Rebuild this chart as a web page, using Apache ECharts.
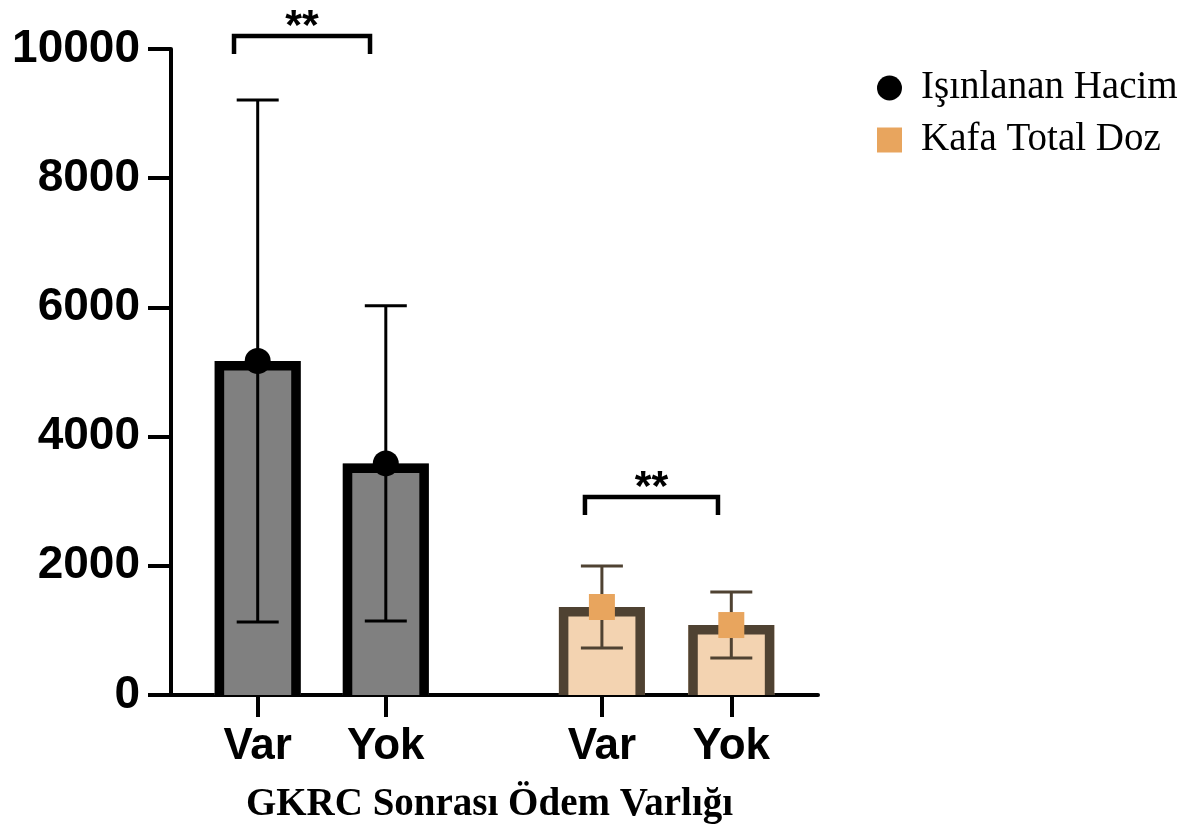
<!DOCTYPE html>
<html><head><meta charset="utf-8">
<script src="https://cdn.jsdelivr.net/npm/echarts@6/dist/echarts.min.js"></script>
<style>html,body{margin:0;padding:0;background:#fff}#c{width:1194px;height:832px}</style>
</head><body><div id="c"></div>
<script>
// ---- data ----
const categories = ['Var', 'Yok', 'Var', 'Yok'];
const xPositions = [0.67, 1.66, 3.33, 4.33];
const hacimMean = [5170, 3585];
const hacimSD = [4040, 2440];
const dozMean = [1362, 1083];
const dozSD = [634, 510];
const yTicks = [0, 2000, 4000, 6000, 8000, 10000];
const sigBrackets = [[0.487, 1.538, 10200], [3.199, 4.227, 3065]];
const sigLabels = ['**', '**'];
const seriesNames = ['Işınlanan Hacim', 'Kafa Total Doz'];
const xTitle = 'GKRC Sonrası Ödem Varlığı';

// ---- build ----
const hacimData = hacimMean.map((m, i) => [xPositions[i], m, hacimSD[i]]);
const dozData = dozMean.map((m, i) => [xPositions[i + 2], m, dozSD[i]]);

const BAR_W = 0.665; // in x units
const BORDER = 9.5;
const CAP = 21;

function barRenderer(fill, stroke, errColor) {
  return function (params, api) {
    const x = api.value(0), v = api.value(1), sd = api.value(2);
    const top = api.coord([x, v]);
    const bot = api.coord([x, 0]);
    const w = api.size([BAR_W, 0])[0];
    const l = top[0] - w / 2, r = top[0] + w / 2;
    const hi = api.coord([x, v + sd]);
    const lo = api.coord([x, v - sd]);
    const cx = top[0];
    return {
      type: 'group',
      children: [
        { type: 'rect', shape: { x: l, y: top[1], width: w, height: bot[1] - top[1] }, style: { fill: fill } },
        { type: 'polyline', shape: { points: [[l + BORDER / 2, bot[1]], [l + BORDER / 2, top[1] + BORDER / 2], [r - BORDER / 2, top[1] + BORDER / 2], [r - BORDER / 2, bot[1]]] },
          style: { stroke: stroke, lineWidth: BORDER, fill: null, lineJoin: 'miter' } },
        { type: 'line', shape: { x1: cx, y1: hi[1], x2: cx, y2: lo[1] }, style: { stroke: errColor, lineWidth: 3 } },
        { type: 'line', shape: { x1: cx - CAP, y1: hi[1], x2: cx + CAP, y2: hi[1] }, style: { stroke: errColor, lineWidth: 3 } },
        { type: 'line', shape: { x1: cx - CAP, y1: lo[1], x2: cx + CAP, y2: lo[1] }, style: { stroke: errColor, lineWidth: 3 } }
      ]
    };
  };
}

function bracketRenderer(params, api) {
  const a = api.coord([api.value(0), api.value(2)]);
  const b = api.coord([api.value(1), api.value(2)]);
  const leg = 18;
  return {
    type: 'group',
    children: [
      { type: 'polyline', shape: { points: [[a[0], a[1] + leg], [a[0], a[1]], [b[0], b[1]], [b[0], b[1] + leg]] },
        style: { stroke: '#000', lineWidth: 4.5, fill: null, lineJoin: 'miter' } },
      { type: 'text', x: (a[0] + b[0]) / 2, y: a[1] - 9,
        style: { text: sigLabels[params.dataIndex], fill: '#000', font: 'bold 43px "Liberation Sans", Arial, sans-serif', align: 'center', verticalAlign: 'middle' } }
    ]
  };
}

function nearestIndex(v) {
  let best = 0;
  xPositions.forEach((p, i) => { if (Math.abs(p - v) < Math.abs(xPositions[best] - v)) best = i; });
  return best;
}

const chart = echarts.init(document.getElementById('c'), null, { renderer: 'canvas' });
chart.setOption({
  animation: false,
  backgroundColor: '#fff',
  grid: { left: 171, top: 49, width: 647, height: 646, containLabel: false, outerBoundsMode: 'none' },
  legend: {
    orient: 'vertical', left: 872, top: 63,
    itemWidth: 25, itemHeight: 25, itemGap: 12,
    textStyle: { fontFamily: '"Liberation Serif", "Times New Roman", serif', fontSize: 39, color: '#000', lineHeight: 40, padding: [0, 0, 0, 14] },
    data: [{ name: seriesNames[0], icon: 'circle' }, { name: seriesNames[1], icon: 'rect' }]
  },
  xAxis: {
    type: 'value', min: 0, max: 5,
    axisLine: { show: true, onZero: true, lineStyle: { color: '#000', width: 4 } },
    axisTick: { show: true, customValues: xPositions, length: 22, lineStyle: { color: '#000', width: 4 } },
    axisLabel: { show: true, customValues: xPositions, formatter: v => categories[nearestIndex(v)],
      margin: 30, fontFamily: '"Liberation Sans", Arial, sans-serif', fontWeight: 'bold', fontSize: 44, color: '#000' },
    splitLine: { show: false },
    name: xTitle, nameLocation: 'middle', nameGap: 90,
    nameTextStyle: { fontFamily: '"Liberation Serif", "Times New Roman", serif', fontWeight: 'bold', fontSize: 39, color: '#000', padding: [0, 10, 0, 0] }
  },
  yAxis: {
    type: 'value', min: yTicks[0], max: yTicks[yTicks.length - 1], interval: yTicks[1] - yTicks[0],
    axisLine: { show: true, lineStyle: { color: '#000', width: 4 } },
    axisTick: { show: true, length: 23, lineStyle: { color: '#000', width: 4 } },
    axisLabel: { margin: 31, formatter: v => String(v), fontFamily: '"Liberation Sans", Arial, sans-serif', fontWeight: 'bold', fontSize: 46, color: '#000' },
    splitLine: { show: false }
  },
  series: [
    { type: 'custom', name: 'hacimBars', renderItem: barRenderer('#808080', '#000000', '#000000'), data: hacimData, encode: { x: 0, y: 1 }, z: 2, clip: false, silent: true },
    { type: 'custom', name: 'dozBars', renderItem: barRenderer('#f3d3b1', '#4f4232', '#4f4232'), data: dozData, encode: { x: 0, y: 1 }, z: 2, clip: false, silent: true },
    { type: 'scatter', name: seriesNames[0], symbol: 'circle', symbolSize: 26, itemStyle: { color: '#000', opacity: 1 },
      data: hacimData.map(d => [d[0], d[1]]), z: 4 },
    { type: 'scatter', name: seriesNames[1], symbol: 'rect', symbolSize: 26, itemStyle: { color: '#e8a55e', opacity: 1 },
      data: dozData.map(d => [d[0], d[1]]), z: 4 },
    { type: 'custom', name: 'sig', renderItem: bracketRenderer, data: sigBrackets, encode: { x: [0, 1], y: 2 }, z: 5, clip: false, silent: true }
  ]
});
</script></body></html>
